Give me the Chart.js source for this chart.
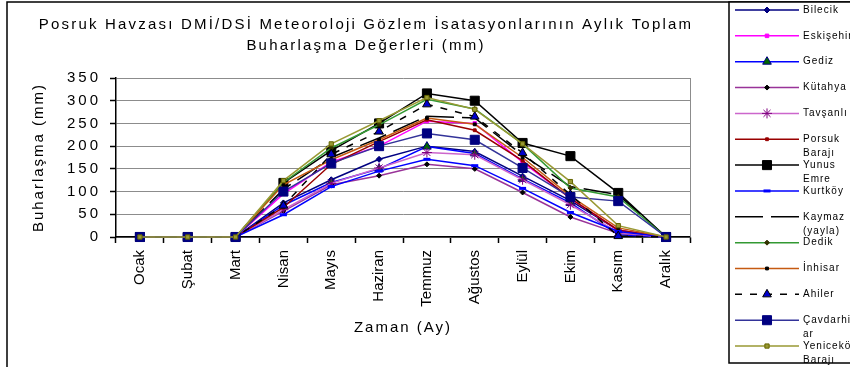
<!DOCTYPE html>
<html>
<head>
<meta charset="utf-8">
<script src="https://cdn.jsdelivr.net/npm/chart.js@4.4.1/dist/chart.umd.min.js"></script>
<style>
  html, body { margin: 0; padding: 0; background: #ffffff; }
  canvas { display: block; }
</style>
</head>
<body>
<canvas id="chart" width="850" height="367"></canvas>
<script>
// Months (x categories)
const months = ['Ocak', 'Şubat', 'Mart', 'Nisan', 'Mayıs', 'Haziran', 'Temmuz', 'Ağustos', 'Eylül', 'Ekim', 'Kasım', 'Aralık'];

// Station names and their wrapped legend text
const stations = ['Bilecik', 'Eskişehir', 'Gediz', 'Kütahya', 'Tavşanlı', 'Porsuk Barajı', 'Yunus Emre', 'Kurtköy', 'Kaymaz (yayla)', 'Dedik', 'İnhisar', 'Ahiler', 'Çavdarhisar', 'Yeniceköy Barajı'];
const legendText = [['Bilecik'], ['Eskişehir'], ['Gediz'], ['Kütahya'], ['Tavşanlı'], ['Porsuk', 'Barajı'], ['Yunus', 'Emre'], ['Kurtköy'], ['Kaymaz', '(yayla)'], ['Dedik'], ['İnhisar'], ['Ahiler'], ['Çavdarhis', 'ar'], ['Yeniceköy', 'Barajı']];

// Y axis ticks (mm)
const yMin = 0, yMax = 350, yStep = 50;

// Monthly total evaporation (mm) per station
const bilecik     = [0, 0, 0, 75, 126, 171, 200, 188, 134, 80, 15, 0];
const eskisehir   = [0, 0, 0, 95, 165, 200, 255, 250, 165, 85, 15, 0];
const gediz       = [0, 0, 0, 70, 120, 150, 199, 184, 128, 75, 5, 0];
const kutahya     = [0, 0, 0, 57, 115, 135, 160, 150, 98, 44, 8, 0];
const tavsanli    = [0, 0, 0, 60, 118, 152, 186, 181, 126, 71, 10, 0];
const porsuk      = [0, 0, 0, 65, 160, 210, 258, 235, 168, 85, 15, 0];
const yunusEmre   = [0, 0, 0, 119, 190, 250, 316, 300, 207, 178, 97, 0];
const kurtkoy     = [0, 0, 0, 49, 111, 145, 171, 157, 107, 54, 12, 0];
const kaymaz      = [0, 0, 0, 105, 175, 218, 266, 262, 180, 111, 93, 0];
const dedik       = [0, 0, 0, 120, 196, 247, 303, 282, 205, 108, 88, 0];
const inhisar     = [0, 0, 0, 115, 170, 214, 262, 248, 175, 90, 20, 0];
const ahiler      = [0, 0, 0, 69, 182, 232, 292, 265, 185, 93, 2, 0];
const cavdarhisar = [0, 0, 0, 100, 162, 200, 228, 214, 152, 88, 79, 0];
const yenicekoy   = [0, 0, 0, 124, 205, 256, 307, 281, 205, 122, 25, 0];

const series = [bilecik, eskisehir, gediz, kutahya, tavsanli, porsuk, yunusEmre, kurtkoy, kaymaz, dedik, inhisar, ahiler, cavdarhisar, yenicekoy];

// Line and marker styles per station
const styles = [
  { line: '#000080', dash: [],      point: 'rectRot',  r: 3,   fill: '#000080', edge: '#000080' },
  { line: '#FF00FF', dash: [],      point: 'rect',     r: 2.5, fill: '#FF00FF', edge: '#FF00FF' },
  { line: '#0000FF', dash: [],      point: 'triangle', r: 5,   fill: '#006600', edge: '#000080' },
  { line: '#993399', dash: [],      point: 'rectRot',  r: 2.5, fill: '#000000', edge: '#000000' },
  { line: '#CC66CC', dash: [],      point: 'star',     r: 5,   fill: '#800080', edge: '#800080' },
  { line: '#990000', dash: [],      point: 'rect',     r: 2,   fill: '#990000', edge: '#990000' },
  { line: '#000000', dash: [],      point: 'rect',     r: 6.4, fill: '#000000', edge: '#000000' },
  { line: '#0000FF', dash: [],      point: 'line',     r: 3.5, fill: '#0000FF', edge: '#0000FF', bw: 3 },
  { line: '#000000', dash: [28, 8], point: false,      r: 0,   fill: '#000000', edge: '#000000' },
  { line: '#339933', dash: [],      point: 'rectRot',  r: 2.5, fill: '#333300', edge: '#333300' },
  { line: '#C55A11', dash: [],      point: 'rect',     r: 2,   fill: '#000000', edge: '#000000' },
  { line: '#000000', dash: [7, 8],  point: 'triangle', r: 5,   fill: '#0000CC', edge: '#000000' },
  { line: '#333399', dash: [],      point: 'rect',     r: 6.4, fill: '#000080', edge: '#000080' },
  { line: '#999933', dash: [],      point: 'rect',     r: 3,   fill: '#999933', edge: '#666600' }
];

const FONT = "'Liberation Sans', Arial, sans-serif";

const datasets = series.map((data, i) => {
  const s = styles[i];
  return {
    label: stations[i],
    data: data,
    borderColor: s.line,
    borderWidth: 1.5,
    borderDash: s.dash,
    pointStyle: s.point,
    pointRadius: s.r,
    pointHoverRadius: s.r,
    pointBackgroundColor: s.fill,
    pointBorderColor: s.edge,
    pointBorderWidth: s.bw || 1,
    tension: 0,
    fill: false,
    clip: false,
    order: -i
  };
});

// Per-axis letter spacing for tick labels
function spacedLabels(scale, spacing) {
  if (scale._spaced) return;
  const orig = scale.drawLabels;
  scale.drawLabels = function (area) {
    const c = this.ctx;
    const prev = c.letterSpacing;
    c.letterSpacing = spacing;
    orig.call(this, area);
    c.letterSpacing = prev;
  };
  scale._spaced = true;
}

// Frame, title, plot border and legend box
const decorPlugin = {
  id: 'decor',
  beforeDraw(chart) {
    spacedLabels(chart.scales.x, '0px');
    spacedLabels(chart.scales.y, '3px');
    chart.ctx.letterSpacing = '2px';
  },
  beforeDatasetsDraw(chart) {
    const { ctx, chartArea: a } = chart;
    ctx.save();
    ctx.strokeStyle = '#8c8c8c';
    ctx.lineWidth = 1;
    ctx.beginPath();
    ctx.moveTo(a.right + 0.5, a.top);
    ctx.lineTo(a.right + 0.5, a.bottom);
    ctx.stroke();
    ctx.restore();
  },
  afterDraw(chart) {
    const ctx = chart.ctx;
    ctx.save();
    // outer frame
    ctx.strokeStyle = '#000';
    ctx.lineWidth = 1.5;
    ctx.beginPath();
    ctx.moveTo(7, 372);
    ctx.lineTo(7, 2);
    ctx.lineTo(860, 2);
    ctx.stroke();

    // title
    ctx.fillStyle = '#000';
    ctx.font = '15px ' + FONT;
    ctx.letterSpacing = '2.2px';
    ctx.textAlign = 'center';
    ctx.textBaseline = 'middle';
    ctx.fillText('Posruk Havzası DMİ/DSİ Meteoroloji Gözlem İsatasyonlarının Aylık Toplam', 366, 25);
    ctx.fillText('Buharlaşma Değerleri (mm)', 366, 46);

    // legend box
    ctx.fillStyle = '#fff';
    ctx.fillRect(729, 2, 130, 361);
    ctx.strokeStyle = '#000';
    ctx.lineWidth = 1.5;
    ctx.strokeRect(729, 2, 130, 361);

    // legend entries
    const x0 = 735, x1 = 799, xm = 767, tx = 803, y0 = 10, dy = 25.85;
    chart.data.datasets.forEach((ds, i) => {
      const y = y0 + i * dy;
      ctx.save();
      ctx.strokeStyle = ds.borderColor;
      ctx.lineWidth = ds.borderWidth;
      ctx.setLineDash(ds.borderDash || []);
      ctx.beginPath();
      ctx.moveTo(x0, y);
      ctx.lineTo(x1, y);
      ctx.stroke();
      ctx.setLineDash([]);
      if (ds.pointStyle) {
        ctx.fillStyle = ds.pointBackgroundColor;
        ctx.strokeStyle = ds.pointBorderColor;
        ctx.lineWidth = ds.pointBorderWidth;
        Chart.helpers.drawPoint(ctx, { pointStyle: ds.pointStyle, radius: ds.pointRadius, borderWidth: ds.pointBorderWidth, rotation: 0 }, xm, y);
      }
      ctx.restore();
      ctx.fillStyle = '#000';
      ctx.font = '10px ' + FONT;
      ctx.letterSpacing = '1px';
      ctx.textAlign = 'left';
      ctx.textBaseline = 'middle';
      legendText[i].forEach((t, k) => ctx.fillText(t, tx, y + k * 14));
    });
    ctx.restore();
    ctx.letterSpacing = '0px';
  }
};

new Chart(document.getElementById('chart'), {
  type: 'line',
  data: { labels: months, datasets: datasets },
  options: {
    responsive: false,
    devicePixelRatio: 1,
    animation: false,
    events: [],
    layout: { padding: { top: 78, right: 160, bottom: 0, left: 0 } },
    plugins: { legend: { display: false }, title: { display: false }, tooltip: { enabled: false } },
    scales: {
      x: {
        type: 'category',
        offset: true,
        afterFit(scale) { scale.height = 130; },
        grid: { display: true, drawOnChartArea: false, offset: true, drawTicks: true, tickLength: 6, tickColor: '#000', tickWidth: 1.5 },
        border: { display: true, color: '#000', width: 1.5 },
        ticks: { autoSkip: false, minRotation: 90, maxRotation: 90, padding: 7, color: '#000', font: { family: FONT, size: 15 } },
        title: { display: true, text: 'Zaman (Ay)', color: '#000', font: { family: FONT, size: 15, lineHeight: 1.2 }, padding: { top: 0, bottom: 30 } }
      },
      y: {
        min: yMin,
        max: yMax,
        afterFit(scale) { scale.width = 116; },
        grid: { color: '#8c8c8c', lineWidth: 1, drawTicks: true, tickLength: 6, tickColor: '#000', tickWidth: 1.5 },
        border: { display: true, color: '#000', width: 1.5 },
        ticks: { stepSize: yStep, padding: 9, color: '#000', font: { family: FONT, size: 15 } },
        title: { display: true, text: 'Buharlaşma (mm)', color: '#000', font: { family: FONT, size: 15, lineHeight: 1.2 }, padding: { top: 30, bottom: 0 } }
      }
    }
  },
  plugins: [decorPlugin]
});
</script>
</body>
</html>
